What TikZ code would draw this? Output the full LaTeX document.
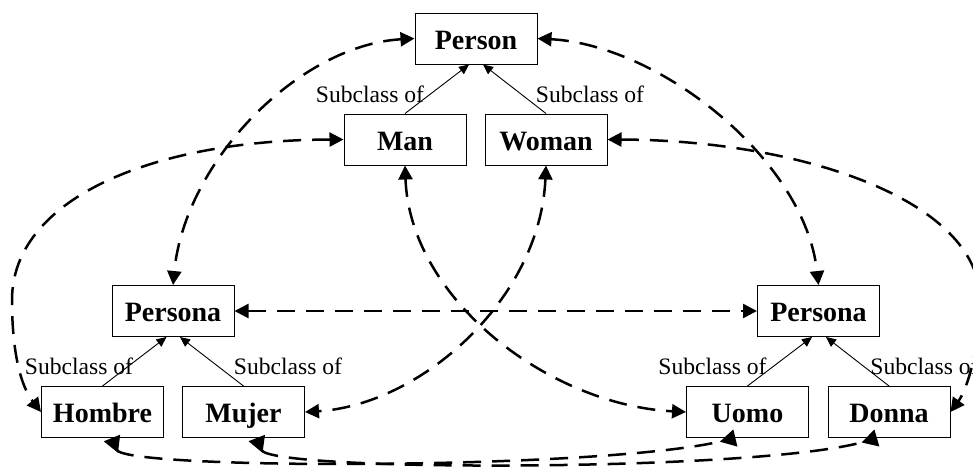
\documentclass[tikz,border=0pt]{standalone}
\usepackage{fontspec}
\setmainfont{Liberation Serif}
\usetikzlibrary{arrows.meta}

\begin{document}
\begin{tikzpicture}[x=1pt,y=-1pt,
  cls/.style={draw,line width=1pt,minimum width=122pt,minimum height=51pt,
              inner sep=0pt,text height=21pt,text depth=0pt,
              font=\fontsize{28}{30}\selectfont\bfseries},
  sub/.style={inner sep=0pt,anchor=base,font=\fontsize{23.6}{26}\selectfont},
  isa/.style={line width=0.9pt,-{Triangle[length=10pt,width=9pt]}},
  same/.style={line width=2.5pt,dash pattern=on 18pt off 11pt,
               {Triangle[length=14pt,width=14pt]}-{Triangle[length=14pt,width=14pt]}},
  samer/.style={line width=2.5pt,dash pattern=on 18pt off 11pt,
               {Triangle[length=16pt,width=17pt,reversed]}-{Triangle[length=16pt,width=17pt,reversed]}}]
  \useasboundingbox (0,0) rectangle (973,467);
  % English hierarchy
  \node[cls] (person) at (476,38.5) {Person};
  \node[cls] (man) at (405,139.5) {Man};
  \node[cls] (woman) at (546,139.5) {Woman};
  % Spanish hierarchy
  \node[cls] (persES) at (173,311) {Persona};
  \node[cls] (hombre) at (102.5,412) {Hombre};
  \node[cls] (mujer) at (243.5,412) {Mujer};
  % Italian hierarchy
  \node[cls] (persIT) at (818.5,311) {Persona};
  \node[cls] (uomo) at (747.5,412) {Uomo};
  \node[cls] (donna) at (889,412) {Donna};

  \draw[isa] (man.north) -- (person.-105);
  \draw[isa] (woman.north) -- (person.-75);
  \draw[isa] (hombre.north) -- (persES.-104);
  \draw[isa] (mujer.north) -- (persES.-75);
  \draw[isa] (uomo.north) -- (persIT.-104);
  \draw[isa] (donna.north) -- (persIT.-74);
  \node[sub] (sub1) at (370,102) {Subclass of};
  \node[sub] (sub2) at (590,102) {Subclass of};
  \node[sub] (sub3) at (79,374) {Subclass of};
  \node[sub] (sub4) at (288,374) {Subclass of};
  \node[sub] (sub5) at (712.5,374) {Subclass of};
  \node[sub] (sub6) at (924.5,374) {Subclass of};

  % equivalences between the languages
  \draw[same] (person.west) .. controls (300,45) and (185,160) .. (persES.north);
  \draw[same] (person.east) .. controls (660,45) and (805,160) .. (persIT.north);
  \draw[same] (persES.east) -- (persIT.west);
  \draw[same] (man.west) .. controls (150,140) and (12,200) .. (12,300)
    .. controls (12,350) and (20,385) .. (hombre.west);
  \draw[same] (woman.east) .. controls (800,140) and (980,200) .. (980,300)
    .. controls (980,345) and (968,388) .. (donna.east);
  \draw[same] (man.south) .. controls (410,300) and (550,405) .. (uomo.west);
  \draw[same] (woman.south) .. controls (540,300) and (420,405) .. (mujer.east);
  \draw[samer] (hombre.-70) .. controls (125,470) and (600,470) .. (uomo.-115);
  \draw[samer] (mujer.-63) .. controls (270,472) and (760,472) .. (donna.-115);
\end{tikzpicture}
\end{document}
